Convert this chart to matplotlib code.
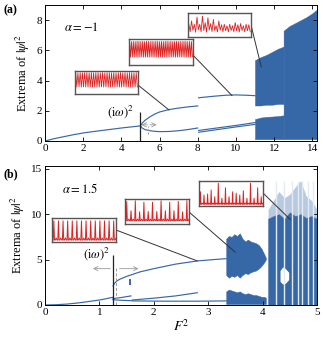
import numpy as np
import matplotlib
matplotlib.use("Agg")
import matplotlib.pyplot as plt
from matplotlib.patches import ConnectionPatch

plt.rcParams['font.family'] = ['Liberation Serif', 'DejaVu Serif']
plt.rcParams['mathtext.fontset'] = 'stix'
plt.rcParams['font.size'] = 7.5

BLUE = '#3667a6'
RED = '#dd2222'

# ---------------- panel (a) data: alpha = -1 ----------------
a_br0_F = [0, 0.5, 1, 1.5, 2, 2.5, 3, 3.5, 4, 4.5, 5]
a_br0_y = [0, 0.16, 0.29, 0.42, 0.53, 0.62, 0.70, 0.78, 0.86, 0.93, 1.0]
a_up1_F = [5.0, 5.1, 5.25, 5.5, 5.75, 6.0, 6.5, 7.0, 7.5, 8.0]
a_up1_y = [1.0, 1.2, 1.38, 1.6, 1.78, 1.92, 2.08, 2.18, 2.26, 2.32]
a_lo1_F = [5.0, 5.1, 5.25, 5.5, 5.75, 6.0, 6.5, 7.0, 7.5, 8.0]
a_lo1_y = [1.0, 0.85, 0.75, 0.68, 0.64, 0.62, 0.63, 0.68, 0.76, 0.86]
a_up2_F = [8.05, 8.5, 9.0, 9.5, 10.0, 10.5, 11.0]
a_up2_y = [2.86, 2.92, 2.98, 3.03, 3.05, 3.03, 3.0]
a_lo2_F = [8.05, 9.0, 10.0, 11.0]
a_lo2a_y = [0.58, 0.75, 0.93, 1.10]
a_lo2b_y = [0.70, 0.86, 1.03, 1.22]
# chaotic envelopes
a_ch1_F = [11.0, 11.3, 11.6, 11.9, 12.2, 12.5]
a_ch1_top = [5.35, 5.55, 5.7, 5.9, 6.1, 6.25]
a_ch1_gap_hi = [2.35, 2.35, 2.4, 2.4, 2.45, 2.45]
a_ch1_gap_lo = [1.45, 1.55, 1.6, 1.62, 1.65, 1.7]
a_ch1_bot = [0.12, 0.12, 0.12, 0.12, 0.12, 0.12]
a_ch2_F = [12.5, 12.8, 13.1, 13.4, 13.7, 14.0, 14.25]
a_ch2_top = [7.3, 7.6, 7.8, 8.0, 8.2, 8.45, 8.7]
a_ch2_bot = [0.12, 0.12, 0.12, 0.12, 0.12, 0.12, 0.12]
a_hopf = 5.0
a_hopf_top = 1.95
a_dash = 5.42

# ---------------- panel (b) data: alpha = 1.5 ----------------
b_br0_F = [0, 0.2, 0.4, 0.6, 0.8, 1.0, 1.1, 1.25]
b_br0_y = [0, 0.03, 0.10, 0.22, 0.38, 0.55, 0.66, 0.85]
b_up_F = [1.25, 1.28, 1.32, 1.38, 1.5, 1.75, 2.0, 2.4, 2.8, 3.1, 3.33]
b_up_y = [2.1, 2.4, 2.65, 2.85, 3.15, 3.65, 4.0, 4.5, 4.85, 5.0, 5.1]
b_lo1_F = [1.25, 1.4, 1.58]
b_lo1_y = [0.70, 0.82, 1.0]
b_lo2_F = [1.25, 1.4, 1.58]
b_lo2_y = [0.58, 0.52, 0.48]
b_lo3_F = [1.6, 2.0, 2.4, 2.8]
b_lo3_y = [0.55, 0.75, 1.0, 1.35]
b_lo4_F = [1.6, 2.2, 2.8, 3.33]
b_lo4_y = [0.45, 0.42, 0.42, 0.45]
b_seg_F = [1.57]
b_seg_lo = [2.2]
b_seg_hi = [2.9]
b_ch1_F = [3.33, 3.38, 3.43, 3.48, 3.53, 3.58, 3.63, 3.68, 3.73, 3.78, 3.83, 3.88, 3.93, 3.98, 4.03, 4.06]
b_ch1_top = [7.3, 7.6, 7.5, 7.8, 7.6, 7.9, 7.3, 7.0, 7.2, 7.0, 6.9, 6.8, 6.6, 6.2, 5.6, 5.2]
b_ch1_mid_hi = [3.3, 3.0, 3.2, 3.1, 3.3, 3.0, 3.3, 3.5, 3.4, 3.6, 3.7, 3.8, 4.0, 4.3, 4.7, 5.0]
b_ch1_mid_lo = [1.5, 1.7, 1.6, 1.5, 1.4, 1.5, 1.3, 1.2, 1.3, 1.2, 1.1, 1.1, 1.0, 0.9, 0.9, 0.8]
b_ch1_bot = [0.1] * 16
b_ch2_F = [4.1, 4.2, 4.3, 4.4, 4.5, 4.6, 4.7, 4.8, 4.9, 5.0]
b_ch2_top = [9.5, 9.8, 10.0, 9.5, 10.2, 9.8, 10.0, 9.6, 9.8, 9.5]
b_ch2_sparse = [10.5, 11.5, 12.5, 11.8, 12.2, 13.0, 13.7, 12.0, 11.5, 10.5]
b_ch2_bot = [0.0] * 10
b_windows = [4.25, 4.40, 4.54, 4.65, 4.72, 4.83, 4.93]
b_hole_F = [4.32, 4.37, 4.42, 4.48]
b_hole_lo = [2.6, 2.3, 2.4, 2.8]
b_hole_hi = [3.8, 4.2, 4.0, 3.6]
b_hopf = 1.25
b_hopf_top = 5.5
b_dash = 1.31

# ---------------- inset waveforms (normalised) ----------------
ins_a1_peaks = [0.93, 0.92, 0.93, 0.92, 0.93, 0.93, 0.92, 0.93, 0.92, 0.93, 0.93, 0.92, 0.93, 0.92,
                0.93, 0.93, 0.92, 0.93, 0.92, 0.93, 0.93, 0.92, 0.93, 0.92, 0.93, 0.93, 0.92, 0.93]
ins_a1_troughs = [0.30, 0.31, 0.30, 0.31, 0.30, 0.30, 0.31, 0.30, 0.31, 0.30, 0.30, 0.31, 0.30, 0.31,
                  0.30, 0.30, 0.31, 0.30, 0.31, 0.30, 0.30, 0.31, 0.30, 0.31, 0.30, 0.30, 0.31, 0.30]
ins_a2_peaks = [0.91, 0.90, 0.91, 0.90, 0.91, 0.91, 0.90, 0.91, 0.90, 0.91, 0.91, 0.90, 0.91, 0.90,
                0.91, 0.91, 0.90, 0.91, 0.90, 0.91, 0.91, 0.90, 0.91, 0.90, 0.91, 0.91, 0.90, 0.91,
                0.90, 0.91, 0.91, 0.90, 0.91, 0.90]
ins_a2_troughs = [0.30, 0.31, 0.30, 0.31, 0.30, 0.30, 0.31, 0.30, 0.31, 0.30, 0.30, 0.31, 0.30, 0.31,
                  0.30, 0.30, 0.31, 0.30, 0.31, 0.30, 0.30, 0.31, 0.30, 0.31, 0.30, 0.30, 0.31, 0.30,
                  0.31, 0.30, 0.30, 0.31, 0.30, 0.31]
ins_a3_peaks = [0.53, 0.67, 0.53, 0.83, 0.53, 0.87, 0.60, 0.80, 0.56, 0.73, 0.47, 0.67,
                0.51, 0.53, 0.47, 0.53, 0.47, 0.60, 0.51, 0.56, 0.47, 0.53, 0.51]
ins_a3_troughs = [0.22, 0.28, 0.20, 0.30, 0.22, 0.27, 0.20, 0.29, 0.23, 0.27, 0.21, 0.28,
                  0.22, 0.26, 0.21, 0.27, 0.22, 0.26, 0.21, 0.27, 0.22, 0.26, 0.22]
ins_b1_peaks = [0.88, 0.88, 0.88, 0.88, 0.88, 0.88, 0.88, 0.88, 0.88, 0.88, 0.88, 0.88, 0.88, 0.88]
ins_b1_bumps = [0.17, 0.17, 0.17, 0.17, 0.17, 0.17, 0.17, 0.17, 0.17, 0.17, 0.17, 0.17, 0.17, 0.17]
ins_b1_base = 0.08
ins_b2_peaks = [0.90, 0.53, 0.93, 0.49, 0.87, 0.50, 0.87, 0.50, 0.93, 0.53, 0.87, 0.53, 0.90, 0.49, 0.93]
ins_b2_bumps = [0.20, 0.20, 0.20, 0.20, 0.20, 0.20, 0.20, 0.20, 0.20, 0.20, 0.20, 0.20, 0.20, 0.20, 0.20]
ins_b2_base = 0.13
ins_b3_peaks = [0.57, 0.44, 0.48, 0.64, 0.37, 0.91, 0.31, 0.73, 0.37, 0.57, 0.51, 0.44,
                0.61, 0.31, 0.91, 0.31, 0.73, 0.37]
ins_b3_bumps = [0.12, 0.12, 0.12, 0.12, 0.12, 0.12, 0.12, 0.12, 0.12, 0.12, 0.12, 0.12,
                0.12, 0.12, 0.12, 0.12, 0.12, 0.12]
ins_b3_base = 0.07

# ---------------- figure ----------------
W, H = 323, 337
fig = plt.figure(figsize=(W / 100, H / 100), dpi=100)


def px_axes(x0, y0, x1, y1):
    return fig.add_axes([x0 / W, 1 - y1 / H, (x1 - x0) / W, (y1 - y0) / H])


axa = px_axes(45, 5, 317, 141)
axb = px_axes(45, 166, 317, 305)

for ax in (axa, axb):
    ax.tick_params(direction='in', top=True, right=True, length=3, width=0.6, labelsize=8, pad=2)
    for s in ax.spines.values():
        s.set_linewidth(0.7)

lw = 0.85
# panel a
axa.plot(a_br0_F, a_br0_y, color=BLUE, lw=lw)
axa.plot(a_up1_F, a_up1_y, color=BLUE, lw=lw)
axa.plot(a_lo1_F, a_lo1_y, color=BLUE, lw=lw)
axa.plot(a_up2_F, a_up2_y, color=BLUE, lw=lw)
axa.plot(a_lo2_F, a_lo2a_y, color=BLUE, lw=lw)
axa.plot(a_lo2_F, a_lo2b_y, color=BLUE, lw=lw)
axa.fill_between(a_ch1_F, a_ch1_gap_hi, a_ch1_top, color=BLUE, lw=0.3, ec=BLUE)
axa.fill_between(a_ch1_F, a_ch1_bot, a_ch1_gap_lo, color=BLUE, lw=0.3, ec=BLUE)
axa.fill_between(a_ch2_F, a_ch2_bot, a_ch2_top, color=BLUE, lw=0.3, ec=BLUE)
axa.vlines(a_hopf, 0, a_hopf_top, color='#222222', lw=0.9)
axa.vlines(a_dash, 0.45, 1.0, color='#999999', lw=0.7, linestyles=(0, (2, 1.5)))
axa.annotate('', xy=(5.05, 1.07), xytext=(5.36, 1.07),
             arrowprops=dict(arrowstyle='->', color='#999999', lw=0.6, shrinkA=0, shrinkB=0))
axa.annotate('', xy=(5.85, 1.07), xytext=(5.5, 1.07),
             arrowprops=dict(arrowstyle='->', color='#999999', lw=0.6, shrinkA=0, shrinkB=0))
axa.text(3.95, 1.95, r'$(\mathrm{i}\omega)^2$', ha='center', va='center', fontsize=9)
axa.text(1.9, 7.5, r'$\alpha = -1$', ha='center', va='center', fontsize=9)
axa.set_xlim(0, 14.25)
axa.set_ylim(0, 9)
axa.set_xticks([0, 2, 4, 6, 8, 10, 12, 14])
axa.set_yticks([0, 2, 4, 6, 8])
axa.set_ylabel(r'Extrema of $|\psi|^2$', fontsize=9, labelpad=3)

# panel b
axb.plot(b_br0_F, b_br0_y, color=BLUE, lw=lw)
axb.plot(b_up_F, b_up_y, color=BLUE, lw=lw)
axb.plot(b_lo1_F, b_lo1_y, color=BLUE, lw=lw)
axb.plot(b_lo2_F, b_lo2_y, color=BLUE, lw=lw)
axb.plot(b_lo3_F, b_lo3_y, color=BLUE, lw=lw)
axb.plot(b_lo4_F, b_lo4_y, color=BLUE, lw=lw)
axb.vlines(b_seg_F, b_seg_lo, b_seg_hi, color=BLUE, lw=1.4)
axb.fill_between(b_ch1_F, b_ch1_mid_hi, b_ch1_top, color=BLUE, lw=0.3, ec=BLUE)
axb.fill_between(b_ch1_F, b_ch1_bot, b_ch1_mid_lo, color=BLUE, lw=0.3, ec=BLUE)
axb.fill_between(b_ch2_F, b_ch2_top, b_ch2_sparse, color=BLUE, alpha=0.35, lw=0)
axb.fill_between(b_ch2_F, b_ch2_bot, b_ch2_top, color=BLUE, lw=0.3, ec=BLUE)
axb.vlines(b_windows, 0, max(b_ch2_sparse), color='#e4eaf3', lw=1.0)
axb.fill_between(b_hole_F, b_hole_lo, b_hole_hi, color='white', lw=0)
axb.vlines(b_hopf, 0, b_hopf_top, color='#222222', lw=0.9)
axb.vlines(b_dash, 0, 4.2, color='#999999', lw=0.7, linestyles=(0, (3, 2)))
axb.annotate('', xy=(0.88, 4.0), xytext=(1.2, 4.0),
             arrowprops=dict(arrowstyle='->', color='#999999', lw=0.6, shrinkA=0, shrinkB=0))
axb.annotate('', xy=(1.72, 4.0), xytext=(1.37, 4.0),
             arrowprops=dict(arrowstyle='->', color='#999999', lw=0.6, shrinkA=0, shrinkB=0))
axb.text(0.95, 5.7, r'$(\mathrm{i}\omega)^2$', ha='center', va='center', fontsize=9)
axb.text(0.65, 12.8, r'$\alpha = 1.5$', ha='center', va='center', fontsize=9)
axb.set_xlim(0, 5)
axb.set_ylim(0, 15.3)
axb.set_xticks([0, 1, 2, 3, 4, 5])
axb.set_yticks([0, 5, 10, 15])
axb.set_ylabel(r'Extrema of $|\psi|^2$', fontsize=9, labelpad=3)
axb.set_xlabel(r'$F^2$', fontsize=10, labelpad=1)

fig.text(3 / W, 1 - 10 / H, '(a)', fontweight='bold', fontsize=8.5, va='center', ha='left')
fig.text(3 / W, 1 - 174 / H, '(b)', fontweight='bold', fontsize=8.5, va='center', ha='left')


def inset(box, frac, target_ax, target):
    ia = px_axes(*box)
    ia.set_xticks([])
    ia.set_yticks([])
    ia.set_ylim(0, 1)
    for s in ia.spines.values():
        s.set_color('#555555')
        s.set_linewidth(1.0)
    ia.set_zorder(5)
    con = ConnectionPatch(xyA=(1, frac), coordsA=ia.transAxes, xyB=target,
                          coordsB=target_ax.transData, color='#333333', lw=0.7, zorder=4)
    fig.add_artist(con)
    return ia


def zigzag(ia, peaks, troughs):
    xs, ys = [], []
    for i, (p, t) in enumerate(zip(peaks, troughs)):
        xs += [i, i + 0.5]
        ys += [p, t]
    ia.plot(xs, ys, color=RED, lw=0.6)
    ia.set_xlim(-0.3, len(peaks) - 0.2)


def spikes(ia, peaks, bumps, base):
    xs, ys = [], []
    for i, (p, b) in enumerate(zip(peaks, bumps)):
        xs += [i - 0.14, i, i + 0.14, i + 0.3, i + 0.5, i + 0.7]
        ys += [base, p, base, base, b, base]
    ia.plot(xs, ys, color=RED, lw=0.7)
    ia.set_xlim(-0.4, len(peaks) - 0.5)


i1 = inset((75, 71, 138, 94), 0.39, axa, (6.5, 2.05))
zigzag(i1, ins_a1_peaks, ins_a1_troughs)
i2 = inset((129, 39, 193, 65), 0.38, axa, (9.8, 3.0))
zigzag(i2, ins_a2_peaks, ins_a2_troughs)
i3 = inset((188, 13, 251, 37), 0.5, axa, (11.33, 4.9))
zigzag(i3, ins_a3_peaks, ins_a3_troughs)
i4 = inset((52, 218, 116, 242), 0.5, axb, (2.8, 4.85))
spikes(i4, ins_b1_peaks, ins_b1_bumps, ins_b1_base)
i5 = inset((125, 199, 189, 224), 0.48, axb, (3.5, 5.8))
spikes(i5, ins_b2_peaks, ins_b2_bumps, ins_b2_base)
i6 = inset((199, 181, 263, 206), 0.52, axb, (4.51, 9.4))
spikes(i6, ins_b3_peaks, ins_b3_bumps, ins_b3_base)

fig.savefig('out.png', dpi=100)
